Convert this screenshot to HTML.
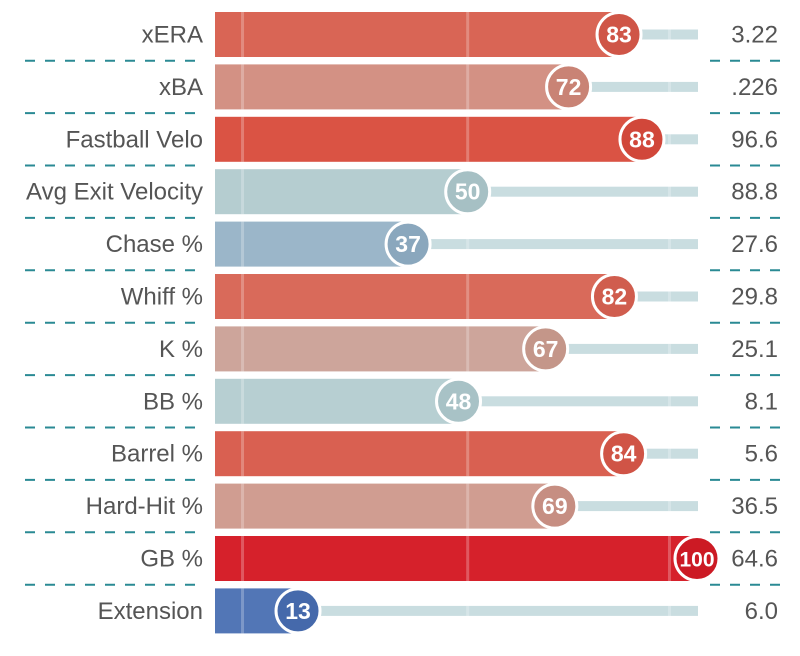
<!DOCTYPE html>
<html><head><meta charset="utf-8"><style>
html,body{margin:0;padding:0;background:#fff;width:800px;height:656px;overflow:hidden}
svg{display:block}
text{font-family:"Liberation Sans Narrow","Liberation Sans",sans-serif}
</style></head><body>
<svg id="chart" width="800" height="656" viewBox="0 0 800 656"></svg>
<script>
const categories=["xERA","xBA","Fastball Velo","Avg Exit Velocity","Chase %","Whiff %","K %","BB %","Barrel %","Hard-Hit %","GB %","Extension"];
const percentiles=[83,72,88,50,37,82,67,48,84,69,100,13];
const statValues=["3.22",".226","96.6","88.8","27.6","29.8","25.1","8.1","5.6","36.5","64.6","6.0"];
const barColors=["#d96555","#d39184","#da5344","#b5cdd0","#9bb6c9","#d96a5a","#cda59b","#b7cfd2","#d96051","#d09d91","#d6212b","#5276b6"];
const circleColors=["#cf5547","#c98375","#d1473a","#a6c0c4","#8aa7bd","#d05d4e","#c49689","#a8c2c6","#d05446","#c68e82","#cc1a24","#4569ab"];
const refLines=[0.9,50,94];
const NS="http://www.w3.org/2000/svg";
const svg=document.getElementById('chart');
const barStart=215,xZero=238.4,xHundred=697,trackEnd=698;
function xs(v){return xZero+(xHundred-xZero)*v/100;}
const rowTop=12,rowStep=52.4,barH=45;
function yc(i){return rowTop+barH/2+i*rowStep;}
function mk(tag,attrs,parent){const e=document.createElementNS(NS,tag);for(const k in attrs)e.setAttribute(k,attrs[k]);(parent||svg).appendChild(e);return e;}
categories.forEach((c,i)=>{
  const g=mk('g',{});
  
  
  const y=yc(i), v=percentiles[i], xe=xs(v);
  const tr=mk('rect',{x:xe,y:y-5,width:Math.max(0,trackEnd-xe),height:10,fill:'#c9dde0'},g);
  
  
  const b=mk('rect',{x:barStart,y:y-barH/2,width:xe-barStart,height:barH,fill:barColors[i]},g);
  
  
  refLines.forEach(r=>{
    const l=mk('rect',{x:xs(r)-1.5,y:y-barH/2,width:3,height:barH,fill:'#ffffff','fill-opacity':0.25},g);
    
    
  });
  const ci=mk('circle',{cx:xe,cy:y,r:22,fill:circleColors[i],stroke:'#fff','stroke-width':3},g);
  
  
  const pt=mk('text',{x:xe,y:y+8,'text-anchor':'middle','font-size':v>=100?21:23,'font-weight':'bold',fill:'#fff'},g);
  pt.textContent=v;
  
  
  const lt=mk('text',{x:203,y:y+8,'text-anchor':'end','font-size':24,fill:'#555'},g);
  lt.textContent=c;
  
  
  const vt=mk('text',{x:778,y:y+8,'text-anchor':'end','font-size':24,fill:'#555'},g);
  vt.textContent=statValues[i];
  
  
  if(i<categories.length-1){
    const dy=y+barH/2+3.7;
    const d1=mk('line',{x1:25,x2:205,y1:dy,y2:dy,stroke:'#2a8a94','stroke-width':2,'stroke-dasharray':'10,10'},g);
    
    
    const d2=mk('line',{x1:710,x2:780,y1:dy,y2:dy,stroke:'#2a8a94','stroke-width':2,'stroke-dasharray':'10,10'},g);
    
    
  }
});
</script>
</body></html>
